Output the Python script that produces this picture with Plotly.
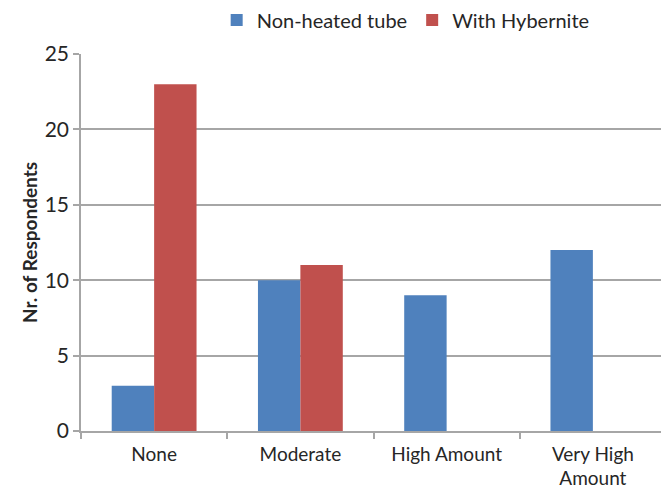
import plotly.graph_objects as go

categories = ["None", "Moderate", "High Amount", "Very High<br>Amount"]
non_heated = [3, 10, 9, 12]
hybernite = [23, 11, 0, 0]
y_ticks = [0, 5, 10, 15, 20, 25]

font_family = "Lato, Open Sans, DejaVu Sans, sans-serif"
grid = "#a6a6a6"

fig = go.Figure()
fig.add_trace(go.Bar(x=categories, y=non_heated, name="Non-heated tube",
                     marker=dict(color="#4F81BD", line=dict(width=0))))
fig.add_trace(go.Bar(x=categories, y=hybernite, name="With Hybernite",
                     marker=dict(color="#C0504D", line=dict(width=0))))

fig.update_layout(
    width=669, height=492,
    margin=dict(l=73, r=11, t=46, b=69, autoexpand=False),
    paper_bgcolor="white", plot_bgcolor="white",
    barmode="group", bargap=0.42, bargroupgap=0,
    font=dict(family=font_family, size=20, color="#262626"),
    legend=dict(orientation="h", x=0.555, xanchor="center", y=1.09, yanchor="middle",
                font=dict(size=20), itemwidth=30,
                traceorder="normal", bgcolor="rgba(0,0,0,0)"),
    showlegend=True,
)
fig.update_xaxes(showline=True, linecolor=grid, linewidth=1.5,
                 ticks="outside", ticklen=6, tickcolor=grid, tickwidth=1.5,
                 tickson="boundaries", showgrid=False, automargin=False,
                 ticklabelstandoff=5, tickfont=dict(size=19))
fig.update_yaxes(range=[0, 25], tickvals=y_ticks, showline=True, linecolor=grid, linewidth=1.5,
                 ticks="outside", ticklen=6, tickcolor=grid, tickwidth=1.5,
                 showgrid=True, gridcolor=grid, gridwidth=1.5, zeroline=False,
                 tickfont=dict(size=21), automargin=False,
                 title=dict(text="<b>Nr. of Respondents</b>", font=dict(size=19), standoff=2))

fig.write_html("out.html")
